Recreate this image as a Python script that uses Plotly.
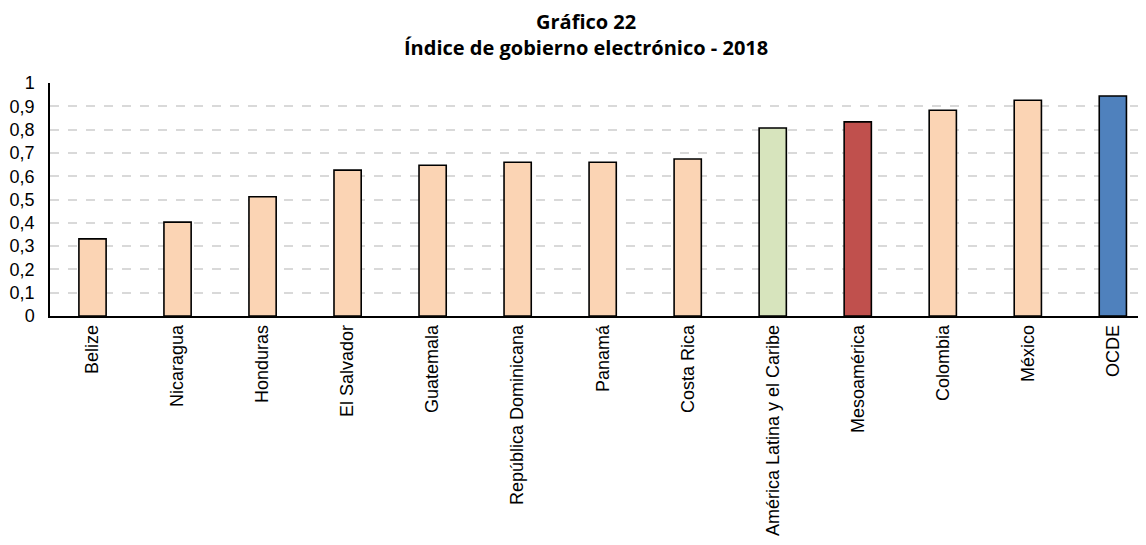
import plotly.graph_objects as go

# Data
paises = [
    "Belize", "Nicaragua", "Honduras", "El Salvador", "Guatemala",
    "República Dominicana", "Panamá", "Costa Rica",
    "América Latina y el Caribe", "Mesoamérica", "Colombia", "México", "OCDE",
]
indice = [0.331, 0.403, 0.512, 0.626, 0.647, 0.660, 0.660, 0.674,
          0.807, 0.833, 0.883, 0.926, 0.944]
colores = ["#FBD4B4"] * 8 + ["#D7E4BD", "#C0504D", "#FBD4B4", "#FBD4B4", "#4F81BD"]

y_ticks = [0, 0.1, 0.2, 0.3, 0.4, 0.5, 0.6, 0.7, 0.8, 0.9, 1]
y_labels = ["0", "0,1", "0,2", "0,3", "0,4", "0,5", "0,6", "0,7", "0,8", "0,9", "1"]

titulo = ["Gráfico 22", "Índice de gobierno electrónico - 2018"]

fig = go.Figure(
    go.Bar(
        x=list(range(len(paises))),
        y=indice,
        width=0.32,
        marker=dict(color=colores, line=dict(color="black", width=1.6)),
        hovertemplate="%{customdata}: %{y:.3f}<extra></extra>",
        customdata=paises,
    )
)

# Two title lines, placed as separate annotations to control spacing
for texto, ypos in zip(titulo, [1.266, 1.153]):
    fig.add_annotation(
        text=f"<b>{texto}</b>",
        xref="paper", yref="paper",
        x=0.489, y=ypos,
        xanchor="center", yanchor="middle",
        showarrow=False,
        borderpad=0,
        font=dict(family="Open Sans", size=20, color="black"),
    )

# page body adds 8px margin, so figure is 8px smaller than the window
fig.update_layout(
    width=1138,
    height=537,
    paper_bgcolor="white",
    plot_bgcolor="white",
    margin=dict(l=42, r=0, t=75, b=229),
    showlegend=False,
    font=dict(family="Arial", size=18, color="black"),
)

fig.update_xaxes(
    tickvals=list(range(len(paises))),
    ticktext=paises,
    tickangle=-90,
    range=[-0.5, 12.39],
    showline=True,
    linecolor="black",
    linewidth=1.5,
    showgrid=False,
    ticks="",
    automargin=False,
    tickfont=dict(family="Arial", size=18, color="black"),
)

fig.update_yaxes(
    range=[0, 1],
    tickvals=y_ticks,
    ticktext=y_labels,
    showline=True,
    linecolor="black",
    linewidth=1.5,
    showgrid=True,
    gridcolor="#D9D9D9",
    gridwidth=1.5,
    griddash="dash",
    zeroline=False,
    ticks="",
    automargin=False,
    ticklabelstandoff=10,
    tickfont=dict(family="Arial", size=18, color="black"),
)

fig.write_html("out.html")
